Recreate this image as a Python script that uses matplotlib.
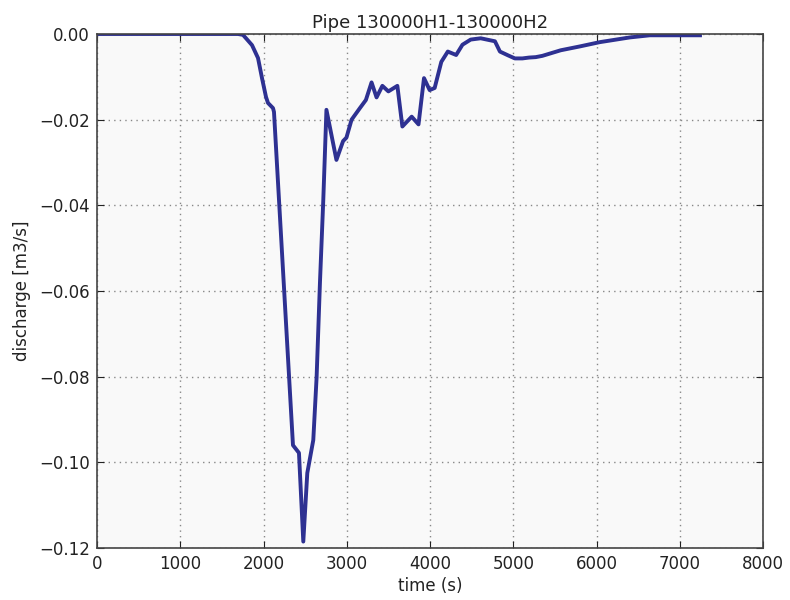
import matplotlib
matplotlib.use("Agg")
import matplotlib.pyplot as plt

plt.rcParams['font.family'] = ["DejaVu Sans"]
plt.rcParams['axes.unicode_minus'] = True

time_s = [0, 1694, 1754, 1862, 1934, 1982, 2030, 2054, 2114, 2126, 2354, 2426, 2478,
          2526, 2598, 2638, 2678, 2718, 2756, 2876, 2956, 2996, 3058, 3158, 3230,
          3298, 3358, 3428, 3500, 3608, 3668, 3780, 3862, 3928, 3996, 4056, 4136,
          4214, 4314, 4390, 4489, 4609, 4780, 4840, 4939, 5020, 5110, 5190, 5270,
          5350, 5570, 5800, 6040, 6400, 6640, 6840, 7243]
discharge = [0.0, 0.0, -0.0002, -0.0026, -0.0056, -0.0103, -0.0147, -0.0161, -0.0173,
             -0.0182, -0.0960, -0.0978, -0.1185, -0.1025, -0.0948, -0.0801, -0.0581,
             -0.0388, -0.0177, -0.0294, -0.0250, -0.0242, -0.0200, -0.0173, -0.0154,
             -0.0113, -0.0148, -0.0121, -0.0134, -0.0121, -0.0216, -0.0193, -0.0211,
             -0.0103, -0.0131, -0.0126, -0.0065, -0.0041, -0.0049, -0.0025, -0.0013,
             -0.0010, -0.0017, -0.0041, -0.0050, -0.0057, -0.0057, -0.0055, -0.0054,
             -0.0051, -0.0038, -0.0029, -0.0019, -0.0008, -0.0003, -0.0003, -0.0003]

x_ticks = [0, 1000, 2000, 3000, 4000, 5000, 6000, 7000, 8000]
y_ticks = [0.00, -0.02, -0.04, -0.06, -0.08, -0.10, -0.12]

fig = plt.figure(figsize=(7.9, 6.0), dpi=100)
ax = fig.add_axes([97/790, 1-548/600, (763-97)/790, (548-34)/600])
ax.set_facecolor("#f9f9f9")
ax.plot(time_s, discharge, color="#2e3192", linewidth=2.8, solid_joinstyle="round")
ax.set_xlim(0, 8000)
ax.set_ylim(-0.12, 0.0)
ax.set_xticks(x_ticks)
ax.set_yticks(y_ticks)
ax.set_yticklabels([f"{v:.2f}".replace("-", "\u2212") for v in y_ticks])
ax.grid(True, linestyle=(0, (1, 3)), color="#888888", linewidth=1.0)
ax.tick_params(direction="in", length=5, labelsize=12, top=True, right=True, colors="#222222", pad=5)
for s in ax.spines.values():
    s.set_color("#444444")
    s.set_linewidth(1.2)
ax.set_title("Pipe 130000H1-130000H2", fontsize=13, color="#222222", pad=4)
ax.set_xlabel("time (s)", fontsize=12, color="#222222", labelpad=3)
ax.set_ylabel("discharge [m3/s]", fontsize=12, color="#222222", labelpad=6)
fig.savefig("out.png", dpi=100, facecolor="white")
